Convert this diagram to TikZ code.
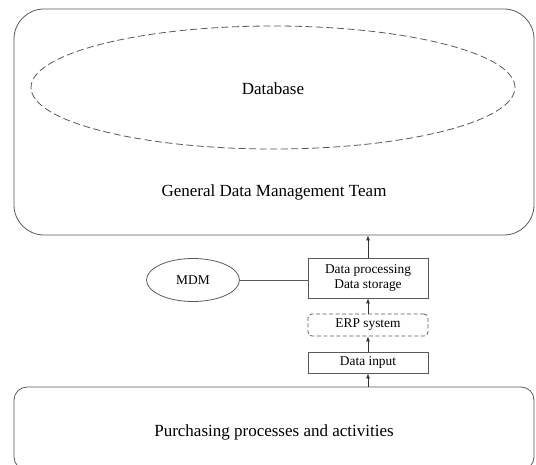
\documentclass[tikz,border=0pt]{standalone}
\usepackage{fontspec}
\setmainfont{Liberation Serif}
\usetikzlibrary{arrows.meta,shapes.geometric}

\tikzset{
  edge/.style={draw=black!65, line width=0.8pt},
  bigtext/.style={font=\fontsize{17}{20}\selectfont},
  smalltext/.style={font=\fontsize{13.4}{16}\selectfont},
  stagebox/.style={edge, rectangle, minimum width=120pt, smalltext, align=center, inner sep=0pt},
  flow/.style={draw=black!80, line width=0.8pt, -{Latex[length=5pt,width=4pt]}},
  longdash/.style={dash pattern=on 7pt off 3.5pt},
  shortdash/.style={dash pattern=on 4pt off 2.5pt},
}

\begin{document}
\begin{tikzpicture}[x=1pt,y=-1pt]
\useasboundingbox (0,0) rectangle (536,465);
\clip (0,0) rectangle (536,465);

% team container with the database inside
\node[edge, rectangle, rounded corners=30pt, minimum width=520pt, minimum height=226pt]
  (team) at (274,122) {};
\node[edge, longdash, ellipse, minimum width=484pt, minimum height=123pt, inner sep=0pt]
  (db) at (273,87.5) {};
\node[bigtext] (dbl) at (273,89) {Database};
\node[bigtext] (teaml) at (274,192) {General Data Management Team};

% purchasing layer
\node[edge, rectangle, rounded corners=13pt, minimum width=520pt, minimum height=83pt]
  (purch) at (274,428.5) {};
\node[bigtext] (purchl) at (274,432) {Purchasing processes and activities};

% processing chain
\node[stagebox, minimum height=40pt] (proc) at (368,278) {Data processing\\[-1pt]Data storage};
\node[stagebox, shortdash, rounded corners=4pt, minimum height=22pt] (erp) at (368,325) {ERP system};
\node[stagebox, minimum height=21pt] (input) at (368,362.5) {Data input};

\node[edge, ellipse, minimum width=93pt, minimum height=43pt, inner sep=0pt, smalltext]
  (mdm) at (193,280) {MDM};

\draw[edge] (mdm.east) -- (mdm.east -| proc.west);
\draw[flow] (purch.north -| input.south) -- (input.south);
\draw[flow] (input.north) -- (erp.south);
\draw[flow] (erp.north) -- (proc.south);
\draw[flow] (proc.north) -- (proc.north |- team.south);
\end{tikzpicture}
\end{document}
